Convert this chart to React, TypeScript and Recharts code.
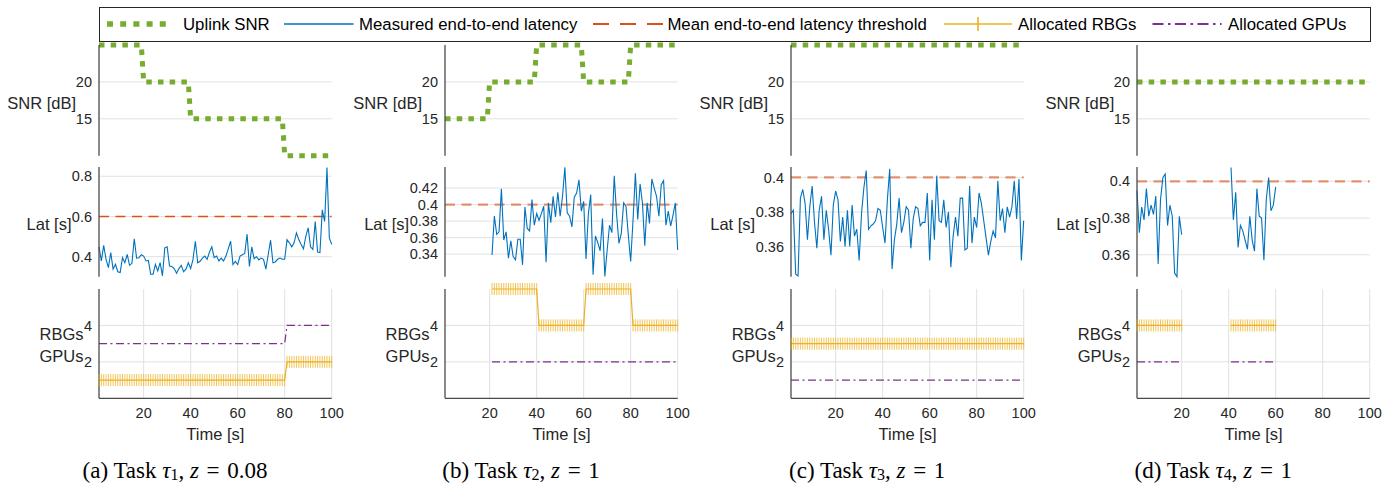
import React from 'react'
import { LineChart, Line, XAxis, YAxis, CartesianGrid, ReferenceLine } from 'recharts'

// ---- data ----
const timeTicks = [20, 40, 60, 80, 100]
const snrTicks = [15, 20]
const rbgTicks = [2, 4]
const latTicksA = [0.4, 0.6, 0.8]
const latTicksB = [0.34, 0.36, 0.38, 0.4, 0.42]
const latTicksCD = [0.36, 0.38, 0.4]

// uplink SNR corner points [t, dB]
const snrA = [[1, 25], [19, 25], [20, 20], [39, 20], [40, 15], [79, 15], [80, 10], [100, 10]]
const snrB = [[1, 15], [19, 15], [20, 20], [39, 20], [40, 25], [59, 25], [60, 20], [79, 20], [80, 25], [100, 25]]
const snrC = [[1, 25], [100, 25]]
const snrD = [[1, 20], [100, 20]]

// measured end-to-end latency, one sample per second
const latA = [
  0.449, 0.379, 0.456, 0.387, 0.346, 0.420, 0.338, 0.362, 0.325, 0.321,
  0.395, 0.370, 0.411, 0.357, 0.367, 0.489, 0.393, 0.395, 0.410, 0.403,
  0.379, 0.382, 0.313, 0.313, 0.362, 0.329, 0.370, 0.305, 0.444, 0.449,
  0.354, 0.351, 0.341, 0.318, 0.341, 0.357, 0.325, 0.338, 0.370, 0.341,
  0.387, 0.477, 0.370, 0.377, 0.393, 0.403, 0.387, 0.423, 0.449, 0.395,
  0.403, 0.379, 0.393, 0.379, 0.403, 0.439, 0.477, 0.361, 0.377, 0.361,
  0.403, 0.410, 0.416, 0.512, 0.351, 0.449, 0.390, 0.400, 0.384, 0.393,
  0.387, 0.338, 0.411, 0.482, 0.370, 0.374, 0.387, 0.393, 0.387, 0.387,
  0.485, 0.469, 0.449, 0.469, 0.518, 0.485, 0.461, 0.439, 0.502, 0.543,
  0.449, 0.436, 0.575, 0.423, 0.420, 0.633, 0.575, 0.843, 0.493, 0.461,
]
// starts at t = 21
const latB = [
  0.339, 0.386, 0.364, 0.367, 0.419, 0.357, 0.367, 0.335, 0.356, 0.337,
  0.333, 0.358, 0.358, 0.327, 0.397, 0.371, 0.368, 0.406, 0.375, 0.389,
  0.381, 0.389, 0.398, 0.330, 0.402, 0.378, 0.410, 0.385, 0.415, 0.386,
  0.410, 0.445, 0.390, 0.386, 0.373, 0.409, 0.414, 0.430, 0.392, 0.404,
  0.334, 0.389, 0.412, 0.315, 0.362, 0.354, 0.344, 0.383, 0.313, 0.345,
  0.375, 0.366, 0.435, 0.389, 0.353, 0.365, 0.402, 0.398, 0.363, 0.331,
  0.381, 0.438, 0.382, 0.425, 0.402, 0.350, 0.402, 0.377, 0.431, 0.420,
  0.410, 0.386, 0.424, 0.429, 0.375, 0.392, 0.374, 0.387, 0.402, 0.345,
]
const latC = [
  0.379, 0.381, 0.344, 0.343, 0.388, 0.393, 0.385, 0.364, 0.383, 0.395,
  0.374, 0.359, 0.381, 0.389, 0.364, 0.381, 0.370, 0.355, 0.384, 0.392,
  0.387, 0.363, 0.377, 0.360, 0.381, 0.360, 0.384, 0.366, 0.370, 0.352,
  0.379, 0.394, 0.404, 0.370, 0.372, 0.373, 0.375, 0.382, 0.381, 0.371,
  0.362, 0.387, 0.405, 0.347, 0.364, 0.373, 0.388, 0.368, 0.374, 0.383,
  0.381, 0.359, 0.376, 0.383, 0.382, 0.372, 0.374, 0.374, 0.391, 0.352,
  0.387, 0.364, 0.401, 0.375, 0.374, 0.387, 0.371, 0.380, 0.348, 0.366,
  0.377, 0.366, 0.388, 0.388, 0.358, 0.359, 0.395, 0.362, 0.377, 0.371,
  0.391, 0.385, 0.375, 0.365, 0.355, 0.363, 0.369, 0.365, 0.398, 0.375,
  0.382, 0.368, 0.383, 0.377, 0.383, 0.398, 0.376, 0.399, 0.352, 0.375,
]
// t = 1..20 and t = 41..60
const latD1 = [0.395, 0.372, 0.386, 0.379, 0.396, 0.381, 0.387, 0.382, 0.392, 0.355, 0.390, 0.402, 0.404, 0.376, 0.387, 0.381, 0.350, 0.348, 0.381, 0.371]
const latD2 = [0.4075, 0.379, 0.394, 0.364, 0.376, 0.373, 0.368, 0.363, 0.381, 0.368, 0.362, 0.396, 0.381, 0.380, 0.357, 0.390, 0.402, 0.384, 0.387, 0.397]

const thresholds = [0.6, 0.4, 0.4, 0.4]

// allocations as runs: [value, from t, to t]
const rbgA = [[1, 1, 80], [2, 81, 100]]
const gpuA = [[3, 1, 80], [4, 81, 100]]
const rbgB = [[6, 21, 40], [4, 41, 60], [6, 61, 80], [4, 81, 100]]
const gpuB = [[2, 21, 100]]
const rbgC = [[3, 1, 100]]
const gpuC = [[1, 1, 100]]
const rbgD = [[4, 1, 20], [4, 41, 60]]
const gpuD = [[2, 1, 20], [2, 41, 60]]

const captions = [
  { tag: '(a)', sub: '1', z: '0.08' },
  { tag: '(b)', sub: '2', z: '1' },
  { tag: '(c)', sub: '3', z: '1' },
  { tag: '(d)', sub: '4', z: '1' },
]

// ---- styling ----
const GREEN = '#77AC30'
const BLUE = '#0072BD'
const ORANGE = '#D95319'
const YELLOW = '#EDB120'
const PURPLE = '#7E2F8E'
const GRID = '#e1e1e1'
const AXIS = '#4a4a4a'
const INK = '#262626'
const SANS = '"Liberation Sans", Arial, Helvetica, sans-serif'
const SERIF = '"Liberation Serif", "Times New Roman", serif'

const PLOT_W = 232.7
const colLeft = (i: number) => 99 + 346.1 * i
const rows = {
  snr: { top: 45, h: 110.7 },
  lat: { top: 166.7, h: 109.8 },
  rbg: { top: 289, h: 109.3 },
}

type Seg = { start: number; values: number[] }

const latSegs: Seg[][] = [
  [{ start: 1, values: latA }],
  [{ start: 21, values: latB }],
  [{ start: 1, values: latC }],
  [{ start: 1, values: latD1 }, { start: 41, values: latD2 }],
]
const latDomains = [[0.3, 0.846], [0.3125, 0.4455], [0.3425, 0.406], [0.348, 0.4078]]
const latTicks = [latTicksA, latTicksB, latTicksCD, latTicksCD]
const latLabelGap = [27.5, 36, 36, 36]
const snrSets = [snrA, snrB, snrC, snrD]
const rbgSets = [rbgA, rbgB, rbgC, rbgD]
const gpuSets = [gpuA, gpuB, gpuC, gpuD]

const allT = Array.from({ length: 100 }, (_, k) => k + 1)

const latRows = (segs: Seg[]) =>
  allT.map(t => {
    const s = segs.find(g => t >= g.start && t < g.start + g.values.length)
    return { t, lat: s ? s.values[t - s.start] : null }
  })

const runValue = (runs: number[][], t: number) => {
  const r = runs.find(x => t >= x[1] && t <= x[2])
  return r ? r[0] : null
}

const allocRows = (rbg: number[][], gpu: number[][]) =>
  allT.map(t => ({ t, rbg: runValue(rbg, t), gpu: runValue(gpu, t) }))

const RbgTick = (p: any) => {
  if (p.cx == null || p.cy == null || p.value == null || Number.isNaN(p.cy)) return <g key={p.key ?? p.index} />
  return (
    <line key={p.key ?? p.index} x1={p.cx} x2={p.cx} y1={p.cy - 6} y2={p.cy + 6} stroke={YELLOW} strokeOpacity={0.75} strokeWidth={1} />
  )
}

const tickStyle = { fontSize: 14.5, fill: INK, fontFamily: SANS }

function Sub(props: {
  i: number
  row: 'snr' | 'lat' | 'rbg'
  data: any[]
  domain: number[]
  ticks: number[]
  children: React.ReactNode
}) {
  const { i, row, data, domain, ticks, children } = props
  const showX = row === 'rbg'
  const YW = 60
  const MT = 8
  const MR = 26
  const MB = showX ? 0 : 6
  const XH = showX ? 30 : 0
  const { top, h } = rows[row]
  return (
    <div style={{ position: 'absolute', left: colLeft(i) - YW, top: top - MT }}>
      <LineChart
        width={YW + PLOT_W + MR}
        height={MT + h + MB + XH}
        data={data}
        margin={{ top: MT, right: MR, bottom: MB, left: 0 }}
        style={{ overflow: 'visible' }}
      >
        <CartesianGrid stroke={GRID} strokeWidth={1} verticalValues={timeTicks} horizontalValues={ticks} />
        <XAxis
          type="number"
          dataKey="t"
          domain={[1, 100]}
          ticks={timeTicks}
          interval={0}
          height={XH}
          tick={showX ? tickStyle : false}
          axisLine={showX ? { stroke: AXIS, strokeWidth: 1.3 } : false}
          tickLine={false}
          tickSize={0}
          tickMargin={9}
        />
        <YAxis
          type="number"
          domain={domain}
          ticks={ticks}
          interval={0}
          width={YW}
          tick={tickStyle}
          tickFormatter={(v: number) => String(v)}
          axisLine={{ stroke: AXIS, strokeWidth: 1.3 }}
          tickLine={false}
          tickSize={0}
          tickMargin={7}
        />
        {children}
      </LineChart>
    </div>
  )
}

function Panel({ i }: { i: number }) {
  const snrData = snrSets[i].map(p => ({ t: p[0], v: p[1] }))
  const thrSoft = i > 0
  return (
    <>
      <Sub i={i} row="snr" data={snrData} domain={[10, 25]} ticks={snrTicks}>
        <Line
          dataKey="v"
          type="linear"
          stroke={GREEN}
          strokeWidth={5}
          strokeDasharray="5.5 6.2"
          dot={false}
          isAnimationActive={false}
        />
      </Sub>
      <Sub i={i} row="lat" data={latRows(latSegs[i])} domain={latDomains[i]} ticks={latTicks[i]}>
        <ReferenceLine
          y={thresholds[i]}
          stroke={ORANGE}
          strokeOpacity={thrSoft ? 0.6 : 1}
          strokeWidth={thrSoft ? 2.2 : 1.4}
          strokeDasharray="10 6.5"
        />
        <Line dataKey="lat" type="linear" stroke={BLUE} strokeWidth={1.1} dot={false} isAnimationActive={false} />
      </Sub>
      <Sub i={i} row="rbg" data={allocRows(rbgSets[i], gpuSets[i])} domain={[0, 6]} ticks={rbgTicks}>
        <Line
          dataKey="gpu"
          type="linear"
          stroke={PURPLE}
          strokeWidth={1.2}
          strokeDasharray="8 3.5 2 3.5"
          dot={false}
          isAnimationActive={false}
        />
        <Line dataKey="rbg" type="linear" stroke={YELLOW} strokeWidth={1.2} dot={RbgTick} isAnimationActive={false} />
      </Sub>
    </>
  )
}

function Labels() {
  return (
    <svg width={1399} height={486} style={{ position: 'absolute', left: 0, top: 0 }}>
      {[0, 1, 2, 3].map(i => {
        const L = colLeft(i)
        const c = captions[i]
        return (
          <g key={i} fontFamily={SANS} fill={INK} fontSize={16.5}>
            <text x={L - 23} y={rows.snr.top + rows.snr.h / 2 + 2.5} textAnchor="end" dominantBaseline="central">SNR [dB]</text>
            <text x={L - latLabelGap[i]} y={224} textAnchor="end" dominantBaseline="central">Lat [s]</text>
            <text x={L - 15.5} y={334} textAnchor="end" dominantBaseline="central">RBGs</text>
            <text x={L - 15.5} y={356} textAnchor="end" dominantBaseline="central">GPUs</text>
            <text x={L + PLOT_W / 2} y={434} textAnchor="middle" dominantBaseline="central">Time [s]</text>
            <text x={175 + 346.1 * i} y={470} textAnchor="middle" dominantBaseline="central" fontFamily={SERIF} fontSize={23} fill="#000">
              {c.tag} Task <tspan fontStyle="italic">τ</tspan>
              <tspan fontSize={16} dy={4}>{c.sub}</tspan>
              <tspan dy={-4}>, </tspan>
              <tspan fontStyle="italic">z</tspan>
              {'\u2004=\u2004' + c.z}
            </text>
          </g>
        )
      })}
    </svg>
  )
}

function LegendBox() {
  const y = 24
  return (
    <svg width={1399} height={50} style={{ position: 'absolute', left: 0, top: 0 }}>
      <rect x={99.5} y={7.5} width={1271} height={34} fill="#fff" stroke={INK} strokeWidth={1} />
      <g fontFamily={SANS} fontSize={16.8} fill="#000">
        <line x1={107} x2={170} y1={y} y2={y} stroke={GREEN} strokeWidth={5.5} strokeDasharray="6 7.2" />
        <text x={183} y={y} dominantBaseline="central">Uplink SNR</text>
        <line x1={284} x2={353.5} y1={y} y2={y} stroke={BLUE} strokeWidth={1.6} />
        <text x={359} y={y} dominantBaseline="central">Measured end-to-end latency</text>
        <line x1={593} x2={664} y1={y} y2={y} stroke={ORANGE} strokeWidth={1.8} strokeDasharray="16 11" />
        <text x={667.4} y={y} dominantBaseline="central">Mean end-to-end latency threshold</text>
        <line x1={944} x2={1012} y1={y} y2={y} stroke={YELLOW} strokeWidth={1.6} />
        <line x1={978} x2={978} y1={y - 7} y2={y + 7} stroke={YELLOW} strokeWidth={1.6} />
        <text x={1018} y={y} dominantBaseline="central">Allocated RBGs</text>
        <line x1={1152.5} x2={1221.6} y1={y} y2={y} stroke={PURPLE} strokeWidth={1.8} strokeDasharray="11 4.5 2.5 4.5" />
        <text x={1228} y={y} dominantBaseline="central">Allocated GPUs</text>
      </g>
    </svg>
  )
}

export default function App() {
  return (
    <div style={{ position: 'absolute', left: 0, top: 0, width: 1399, height: 486, background: '#fff', overflow: 'hidden' }}>
      <Labels />
      {[0, 1, 2, 3].map(i => (
        <Panel key={i} i={i} />
      ))}
      <LegendBox />
    </div>
  )
}
